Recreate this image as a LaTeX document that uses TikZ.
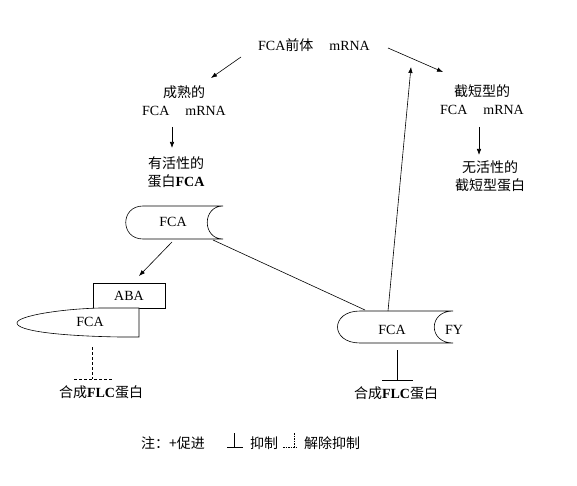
\documentclass[tikz,border=0pt]{standalone}
\usepackage{fontspec}
\setmainfont{Liberation Serif}
\newfontfamily\cjk{Noto Sans CJK SC}
\usetikzlibrary{arrows.meta}

\tikzset{
  lbl/.style={inner sep=0pt, font=\fontsize{14}{18}\selectfont, align=center},
  arr/.style={-{Latex[length=6pt,width=4.5pt]}, line width=0.6pt},
  prot/.style={line width=0.6pt, fill=white},
  blk/.style={line width=0.6pt},
  relief/.style={line width=0.6pt, dash pattern=on 3pt off 2pt}
}

\begin{document}
\begin{tikzpicture}[x=1pt,y=-1pt]
    \useasboundingbox (0,0) rectangle (577,486);

    % precursor and the two splice products
    \node[lbl] (pre) at (314,45) {FCA{\cjk 前体}\hspace{16pt}mRNA};
    \node[lbl] (mat) at (184,101) {{\cjk 成熟的}\\FCA\hspace{16pt}mRNA};
    \node[lbl] (act) at (176,172.5) {{\cjk 有活性的}\\{\cjk 蛋白}\textbf{FCA}};
    \node[lbl] (trn) at (482,99.5) {{\cjk 截短型的}\\FCA\hspace{16pt}mRNA};
    \node[lbl] (ina) at (490,176) {{\cjk 无活性的}\\{\cjk 截短型蛋白}};

    \coordinate (pre-sw) at (241,57);  \coordinate (mat-ne) at (211,78);
    \coordinate (pre-se) at (388,48);  \coordinate (trn-nw) at (443,72);
    \coordinate (mat-s)  at (172,127); \coordinate (act-n)  at (172,148);
    \coordinate (trn-s)  at (479,127); \coordinate (ina-n)  at (479,155);
    \draw[arr] (pre-sw) -- (mat-ne);
    \draw[arr] (pre-se) -- (trn-nw);
    \draw[arr] (mat-s) -- (act-n);
    \draw[arr] (trn-s) -- (ina-n);

    % active FCA protein
    \draw[prot] (143,206) -- (223,206) .. controls (202,206) and (202,239) .. (223,239)
        -- (143,239) .. controls (120,239) and (120,206) .. (143,206);
    \node[lbl] (fca) at (173,222) {FCA};
    \coordinate (fca-se) at (213,240); \coordinate (fca-s) at (172,242);

    % FCA bound by ABA
    \node[lbl, draw, blk, minimum width=72pt, minimum height=25pt] (aba) at (129,295.5) {ABA};
    \draw[prot] (139,308) -- (139,337) -- (120,337) .. controls (60,336) and (17,331) .. (17,323)
        .. controls (17,316) and (60,309) .. (100,308) -- cycle;
    \node[lbl] (leaf) at (90,322) {FCA};
    \coordinate (aba-ne) at (139,276);
    \draw[arr] (fca-s) -- (aba-ne);

    % FCA--FY complex
    \draw[prot] (360,311) -- (453,311) .. controls (428,311) and (428,343) .. (453,343)
        -- (360,343) .. controls (330,343) and (330,311) .. (360,311);
    \node[lbl] (fcafy) at (392,330) {FCA};
    \node[lbl] (fy) at (454,330) {FY};
    \coordinate (fy-nw) at (365,310); \coordinate (fy-n) at (388,311);
    \coordinate (pre-up) at (411,67);
    \draw[blk] (fca-se) -- (fy-nw);
    \draw[arr] (fy-n) -- (pre-up);

    % FLC protein
    \node[lbl] (flcL) at (101,392) {{\cjk 合成}\textbf{FLC}{\cjk 蛋白}};
    \node[lbl] (flcR) at (396,393) {{\cjk 合成}\textbf{FLC}{\cjk 蛋白}};
    \draw[relief] (92,347) -- (92,379);
    \draw[relief] (74,379) -- (113,379);
    \draw[blk] (397,350) -- (397,380);
    \draw[blk] (382,380) -- (413,380);

    % legend
    \node[lbl] (key1) at (173,443) {\cjk 注：+促进};
    \draw[blk] (234,433) -- (234,447);
    \draw[blk] (227,447) -- (243,447);
    \node[lbl] (key2) at (264,443) {\cjk 抑制};
    \draw[line width=0.6pt, dash pattern=on 1.5pt off 1pt] (294,433) -- (294,447);
    \draw[line width=0.6pt, dash pattern=on 1.5pt off 1pt] (283,447) -- (297,447);
    \node[lbl] (key3) at (332,443) {\cjk 解除抑制};
\end{tikzpicture}
\end{document}
